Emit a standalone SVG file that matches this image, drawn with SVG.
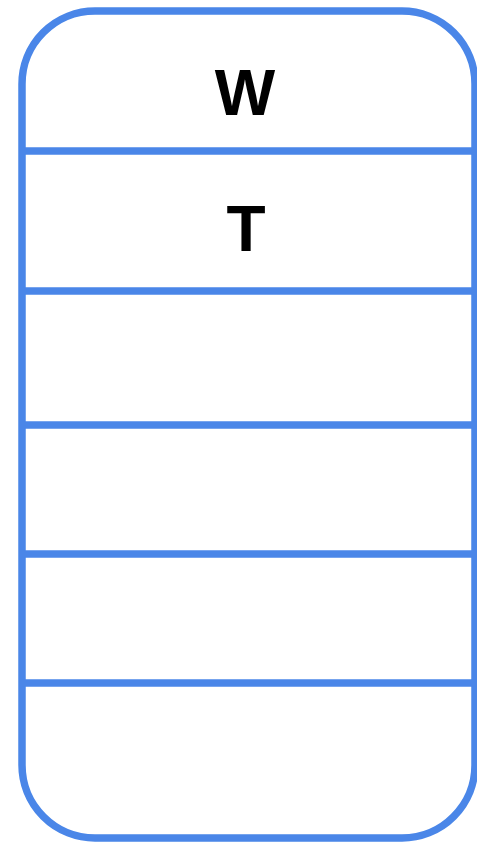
<svg xmlns="http://www.w3.org/2000/svg" width="477" height="842" viewBox="0 0 477 842">
<style>
.b{fill:none;stroke:#4a86e8;stroke-width:7.5}
.t{font-family:"Liberation Sans",Arial,sans-serif;font-weight:bold;font-size:64px;fill:#000;text-anchor:middle}
</style>
<rect x="0" y="0" width="477" height="842" fill="#fff"/>
<g id="table">
<rect class="b" x="22" y="11" width="453" height="827" rx="73" ry="73"/>
<line class="b" x1="22" y1="151" x2="475" y2="151"/>
<line class="b" x1="22" y1="291" x2="475" y2="291"/>
<line class="b" x1="22" y1="425" x2="475" y2="425"/>
<line class="b" x1="22" y1="554" x2="475" y2="554"/>
<line class="b" x1="22" y1="683" x2="475" y2="683"/>
</g>
<g id="cell-w"><text class="t" x="245" y="115">W</text></g>
<g id="cell-t"><text class="t" x="246" y="251">T</text></g>
</svg>
